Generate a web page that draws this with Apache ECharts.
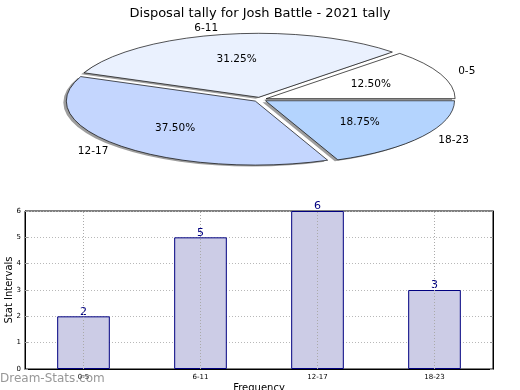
<!DOCTYPE html>
<html>
<head>
<meta charset="utf-8">
<script src="https://cdn.jsdelivr.net/npm/echarts@6/dist/echarts.min.js"></script>
<style>html,body{margin:0;padding:0;background:#fff}#c{width:520px;height:390px}</style>
</head>
<body>
<div id="c"></div>
<script>
const titleText = 'Disposal tally for Josh Battle - 2021 tally';
const categories = ['0-5', '6-11', '12-17', '18-23'];
const pieValues = [2, 5, 6, 3];
const barValues = [2, 5, 6, 3];
const pieColors = ['#ffffff', '#eaf1fe', '#c4d6fe', '#b4d4fe'];
const yTicks = [0, 1, 2, 3, 4, 5, 6];

const FONT = 'DejaVu Sans';
const CX = 260, CY = 99.5, RX = 189, RY = 64, EXPLODE = 0.035;
const total = pieValues.reduce((a, b) => a + b, 0);

function sliceGeom(i, v) {
  let before = 0;
  for (let k = 0; k < i; k++) before += pieValues[k];
  const a1 = before / total * Math.PI * 2;
  const a2 = (before + v) / total * Math.PI * 2;
  const mid = (a1 + a2) / 2;
  const c = Math.cos(mid), s = Math.sin(mid);
  return { a1, a2, c, s, ox: CX + EXPLODE * RX * c, oy: CY - EXPLODE * RY * s };
}

function renderShadow(params, api) {
  const g = sliceGeom(params.dataIndex, api.value(0));
  return {
    type: 'group', x: g.ox - 3, y: g.oy + 1.5, scaleY: RY / RX,
    children: [{
      type: 'sector',
      shape: { cx: 0, cy: 0, r: RX, r0: 0, startAngle: -g.a2, endAngle: -g.a1, clockwise: true },
      style: { fill: 'rgba(60,60,60,0.5)' }
    }]
  };
}

function renderSlice(params, api) {
  const i = params.dataIndex;
  const v = api.value(0);
  const g = sliceGeom(i, v);
  const pct = (v / total * 100).toFixed(2) + '%';
  return {
    type: 'group',
    children: [
      {
        type: 'group', x: g.ox, y: g.oy, scaleY: RY / RX,
        children: [{
          type: 'sector',
          shape: { cx: 0, cy: 0, r: RX, r0: 0, startAngle: -g.a2, endAngle: -g.a1, clockwise: true },
          style: { fill: pieColors[i], stroke: '#000', lineWidth: 1, strokeNoScale: true }
        }]
      },
      {
        type: 'text', x: g.ox + 1.1 * RX * g.c, y: g.oy - 1.1 * RY * g.s,
        style: { text: api.value(1), fill: '#000', font: '10.5px "' + FONT + '"',
          align: g.c >= 0 ? 'left' : 'right', verticalAlign: 'middle' }
      },
      {
        type: 'text', x: g.ox + 0.6 * RX * g.c, y: g.oy - 0.6 * RY * g.s,
        style: { text: pct, fill: '#000', font: '10.5px "' + FONT + '"',
          align: 'center', verticalAlign: 'middle' }
      }
    ]
  };
}

const chart = echarts.init(document.getElementById('c'), null, { renderer: 'canvas' });
chart.setOption({
  animation: false,
  backgroundColor: '#fff',
  textStyle: { fontFamily: FONT },
  title: {
    text: titleText, left: 'center', top: 2,
    textStyle: { fontSize: 13, fontWeight: 'normal', color: '#000', fontFamily: FONT }
  },
  graphic: [{
    type: 'text', left: 0, top: 373, z: 100,
    style: { text: 'Dream-Stats.com', fill: 'rgba(125,125,125,0.8)', font: '12px "' + FONT + '"' }
  }],
  grid: {
    left: 25, right: 27, top: 211, bottom: 21, containLabel: false, outerBoundsMode: 'none',
    show: true, borderColor: '#000', borderWidth: 1, backgroundColor: 'transparent'
  },
  xAxis: {
    type: 'category', data: categories,
    name: 'Frequency', nameLocation: 'middle', nameGap: 14, nameMoveOverlap: false,
    nameTextStyle: { fontSize: 10, color: '#000', fontFamily: FONT, verticalAlign: 'top' },
    axisLine: { show: true, lineStyle: { color: '#000' } },
    axisTick: { show: false },
    axisLabel: { fontSize: 7, color: '#000', margin: 5, fontFamily: FONT },
    splitLine: { show: false }
  },
  yAxis: [{
    type: 'value', min: 0, max: 6, interval: 1,
    name: 'Stat Intervals', nameLocation: 'middle', nameGap: 11, nameMoveOverlap: false,
    nameTextStyle: { fontSize: 10, color: '#000', fontFamily: FONT },
    axisLine: { show: true, lineStyle: { color: '#000' } },
    axisTick: { show: true, inside: true, length: 3, lineStyle: { color: '#999' } },
    axisLabel: { fontSize: 7, color: '#000', margin: 4, fontFamily: FONT },
    splitLine: { show: true, lineStyle: { color: '#b8b8b8', type: [1, 2], width: 1 } }
  }, {
    type: 'value', min: 0, max: 6, interval: 1, position: 'right',
    axisLine: { show: true, lineStyle: { color: '#000' } },
    axisTick: { show: true, inside: true, length: 3, lineStyle: { color: '#999' } },
    axisLabel: { show: false },
    splitLine: { show: false }
  }],
  series: [
    {
      type: 'custom', coordinateSystem: 'none', renderItem: renderShadow,
      data: pieValues.map((v, i) => [v, categories[i]]), silent: true, z: 1
    },
    {
      type: 'custom', coordinateSystem: 'none', renderItem: renderSlice,
      data: pieValues.map((v, i) => [v, categories[i]]), silent: true, z: 2
    },
    {
      type: 'bar', data: barValues, barWidth: '45%', xAxisIndex: 0, yAxisIndex: 0,
      itemStyle: { color: '#cccce6', borderColor: '#000080', borderWidth: 1 },
      label: { show: true, position: 'top', distance: -1, color: '#000080', fontSize: 11, fontFamily: FONT },
      markLine: {
        silent: true, symbol: ['none', 'none'], label: { show: false },
        lineStyle: { color: '#aaaaaa', type: [1, 2], width: 1 },
        data: categories.map(c => ({ xAxis: c }))
      }
    }
  ]
});
</script>
</body>
</html>
